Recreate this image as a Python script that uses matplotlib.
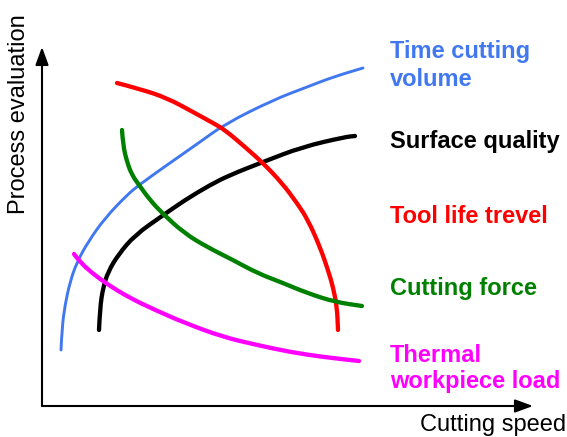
import matplotlib
matplotlib.use("Agg")
import matplotlib.pyplot as plt
from matplotlib.path import Path
from matplotlib.patches import PathPatch

# curves: x = cutting speed, y = process evaluation (px units)
blue_x = [19, 20, 23, 28, 35, 46, 63, 85, 97, 125, 158, 183, 231, 265, 291, 321]
blue_y = [56, 78, 101, 124, 144, 164, 188, 211, 221, 241, 264, 282, 306, 319, 329, 338]

black_x = [57, 58, 61, 66, 76, 93, 120, 143, 168, 188, 221, 260, 303, 313]
black_y = [76, 98, 118, 134, 151, 171, 190, 206, 221, 231, 244, 259, 269, 270]

red_x = [75, 98, 125, 151, 171, 183, 203, 221, 240, 255, 266, 278, 286, 291, 295, 296]
red_y = [323, 317, 308, 294, 283, 276, 259, 243, 223, 203, 186, 159, 136, 119, 99, 76]

green_x = [80, 81, 85, 90, 97, 108, 120, 142, 165, 191, 215, 241, 265, 293, 320]
green_y = [276, 261, 244, 231, 221, 206, 193, 173, 159, 146, 133, 123, 113, 104, 100]

magenta_x = [32, 38, 50, 65, 86, 113, 143, 181, 215, 248, 281, 317]
magenta_y = [152, 144, 133, 122, 109, 96, 83, 69, 61, 54, 49, 45]

labels = ["Time cutting\nvolume", "Surface quality", "Tool life trevel",
          "Cutting force", "Thermal\nworkpiece load"]
label_y = [320, 258, 183, 111, 18]
label_spacing = [1.3, 1.0, 1.0, 1.0, 1.15]
colors = ["#4178f0", "black", "#ff0000", "#008000", "#ff00ff"]
widths = [2.1, 3.1, 3.1, 3.1, 3.1]


def smooth_curve(xs, ys):
    # quadratic bezier pieces through the midpoints of the read points
    pts = list(zip(xs, ys))
    verts = [pts[0]]
    codes = [Path.MOVETO]
    for i in range(1, len(pts) - 1):
        mid = ((pts[i][0] + pts[i + 1][0]) / 2, (pts[i][1] + pts[i + 1][1]) / 2)
        verts += [pts[i], mid]
        codes += [Path.CURVE3, Path.CURVE3]
    verts.append(pts[-1])
    codes.append(Path.LINETO)
    return Path(verts, codes)


plt.rcParams['font.family'] = ['Liberation Sans', 'DejaVu Sans']

fig = plt.figure(figsize=(5.67, 4.37), dpi=100)
ax = fig.add_axes([0, 0, 1, 1])
ax.set_xlim(-42, 525)
ax.set_ylim(-31, 406)
ax.axis('off')

series = [(blue_x, blue_y), (black_x, black_y), (red_x, red_y),
          (green_x, green_y), (magenta_x, magenta_y)]
for (xs, ys), c, lw in zip(series, colors, widths):
    ax.add_patch(PathPatch(smooth_curve(xs, ys), fill=False, edgecolor=c, lw=lw,
                           capstyle='round', joinstyle='round'))

for txt, y, c, ls in zip(labels, label_y, colors, label_spacing):
    ax.text(348, y, txt, color=c, fontsize=17, fontweight='bold',
            ha='left', va='baseline', linespacing=ls)

arrow = dict(arrowstyle='-|>,head_length=0.6,head_width=0.22', lw=1.5,
             color='black', mutation_scale=18, shrinkA=0, shrinkB=0)
ax.annotate('', xy=(491, 0), xytext=(0, 0), arrowprops=arrow)
ax.annotate('', xy=(0, 359), xytext=(0, 0), arrowprops=arrow)

ax.text(524, -25.5, "Cutting speed", fontsize=17, ha='right', va='baseline')
ax.text(-12, 292, "Process evaluation", fontsize=17, rotation=90,
        ha='right', va='center')

fig.savefig("out.png", dpi=100)
